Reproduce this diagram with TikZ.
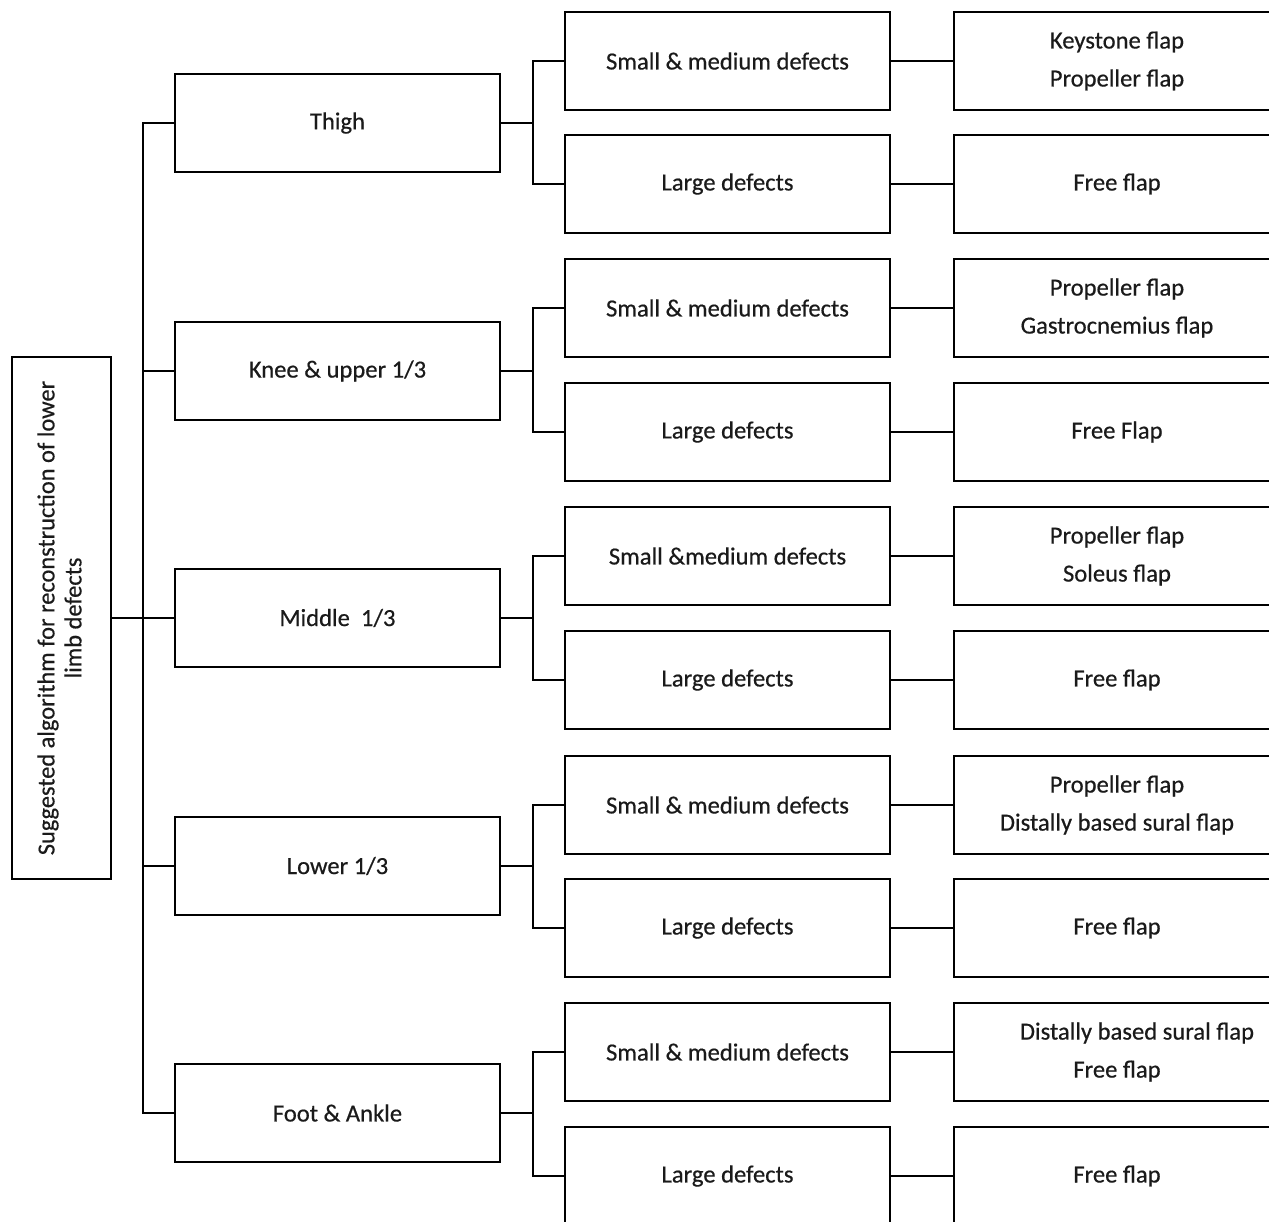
\documentclass[tikz,border=0pt]{standalone}
\usepackage{fontspec}
\setmainfont{Carlito}[FakeBold=0.5]
\usetikzlibrary{calc}
\definecolor{ink}{HTML}{1A1A1A}
\begin{document}
\begin{tikzpicture}[x=1bp,y=-1bp,
  box/.style={draw=black,line width=2bp,fill=white,text=ink,align=center,inner sep=0pt,
    font=\fontsize{24.6bp}{38bp}\selectfont},
  lvlbox/.style={box,minimum width=325bp,minimum height=98bp},
  flapbox/.style={box,minimum width=326bp,minimum height=98bp},
  rootbox/.style={box,minimum width=99bp,minimum height=522bp},
  conn/.style={line width=2bp,draw=black}]
\useasboundingbox (0,0) rectangle (1269,1222);
\clip (0,0) rectangle (1269,1222);
\fill[white] (0,0) rectangle (1269,1222);

\node[rootbox] (root) at (61.5,618) {};
\node[rotate=90,text=ink,align=center,font=\fontsize{24.4bp}{27bp}\selectfont] (roottext) at ($(root.center)+(-2,0)$)
  {Suggested algorithm for reconstruction of lower\\limb defects};

\node[lvlbox] (l1) at (337.5,123) {Thigh};
\node[lvlbox] (l2) at (337.5,371) {Knee \& upper 1/3};
\node[lvlbox] (l3) at (337.5,618) {Middle\ \ 1/3};
\node[lvlbox] (l4) at (337.5,866) {Lower 1/3};
\node[lvlbox] (l5) at (337.5,1113) {Foot \& Ankle};

\node[lvlbox] (s1) at (727.5,61) {Small \& medium defects};
\node[lvlbox] (g1) at (727.5,184) {Large defects};
\node[lvlbox] (s2) at (727.5,308) {Small \& medium defects};
\node[lvlbox] (g2) at (727.5,432) {Large defects};
\node[lvlbox] (s3) at (727.5,556) {Small \&medium defects};
\node[lvlbox] (g3) at (727.5,680) {Large defects};
\node[lvlbox] (s4) at (727.5,805) {Small \& medium defects};
\node[lvlbox] (g4) at (727.5,928) {Large defects};
\node[lvlbox] (s5) at (727.5,1052) {Small \& medium defects};
\node[lvlbox] (g5) at (727.5,1176) {Large defects};

\node[flapbox] (fs1) at (1117,61) {Keystone flap\\Propeller flap};
\node[flapbox] (fg1) at (1117,184) {Free flap};
\node[flapbox] (fs2) at (1117,308) {Propeller flap\\Gastrocnemius flap};
\node[flapbox] (fg2) at (1117,432) {Free Flap};
\node[flapbox] (fs3) at (1117,556) {Propeller flap\\Soleus flap};
\node[flapbox] (fg3) at (1117,680) {Free flap};
\node[flapbox] (fs4) at (1117,805) {Propeller flap\\Distally based sural flap};
\node[flapbox] (fg4) at (1117,928) {Free flap};
\node[flapbox] (fs5) at (1117,1052) {\hspace*{40bp}Distally based sural flap\\Free flap};
\node[flapbox] (fg5) at (1117,1176) {Free flap};

\coordinate (trunk) at (143,618);
\draw[conn] (root.east) -- (trunk);
\foreach \i in {1,...,5} {
  \draw[conn] (trunk) |- (l\i.west);
  \coordinate (b\i) at ($(l\i.east)+(32,0)$);
  \draw[conn] (l\i.east) -- (b\i);
  \draw[conn] (b\i) |- (s\i.west);
  \draw[conn] (b\i) |- (g\i.west);
  \draw[conn] (s\i.east) -- (fs\i.west);
  \draw[conn] (g\i.east) -- (fg\i.west);
}
\end{tikzpicture}
\end{document}
